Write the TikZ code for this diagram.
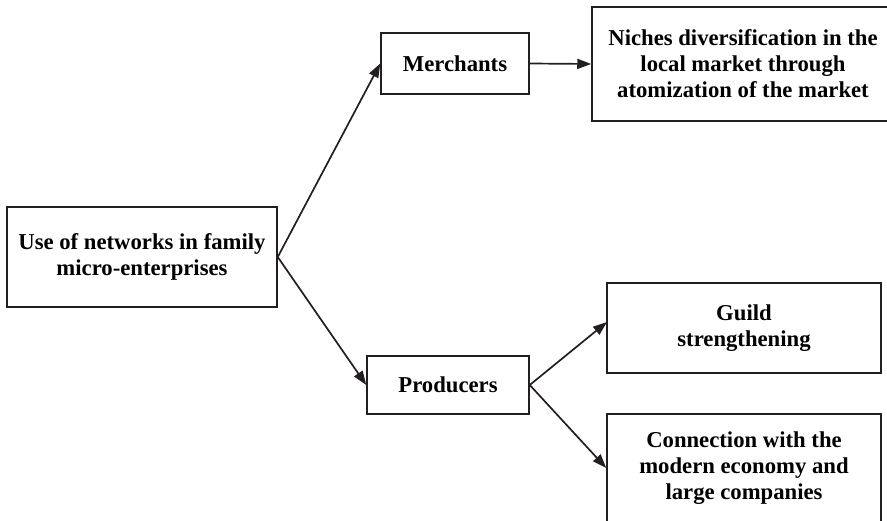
\documentclass[tikz,border=0pt]{standalone}
\usepackage{fontspec}
\setmainfont{Liberation Serif}
\usetikzlibrary{arrows.meta}
\begin{document}
\begin{tikzpicture}[x=1pt,y=-1pt,
  box/.style={draw=ink,line width=1.5pt,rectangle,inner sep=0pt,align=center,
    font=\bfseries\fontsize{22.7}{26}\selectfont},
  link/.style={draw=ink,line width=1.7pt,-{Triangle[length=14pt,width=10pt]}}]
\definecolor{ink}{HTML}{231F20}
\useasboundingbox (0,0) rectangle (887,521);
\clip (0,0) rectangle (887,521);

% boxes
\node[box,minimum width=270pt,minimum height=100pt] (use) at (142,257)
  {Use of networks in family\\micro-enterprises};
\node[box,minimum width=148pt,minimum height=61pt] (merch) at (455,63.5) {Merchants};
\node[box,minimum width=302pt,minimum height=114pt] (niche) at (743,64)
  {Niches diversification in the\\local market through\\atomization of the market};
\node[box,minimum width=162pt,minimum height=58pt] (prod) at (448,385) {Producers};
\node[box,minimum width=274pt,minimum height=90pt] (guild) at (744,328)
  {Guild\\strengthening};
\node[box,minimum width=274pt,minimum height=108pt] (conn) at (744,468)
  {Connection with the\\modern economy and\\large companies};

% where the upper producers arrow meets the guild box
\coordinate (guildin) at (607,322);

% connectors
\draw[link] (use.east) -- (merch.west);
\draw[link] (use.east) -- (prod.west);
\draw[link] (merch.east) -- (niche.west);
\draw[link] (prod.east) -- (guildin);
\draw[link] (prod.east) -- (conn.west);
\end{tikzpicture}
\end{document}
